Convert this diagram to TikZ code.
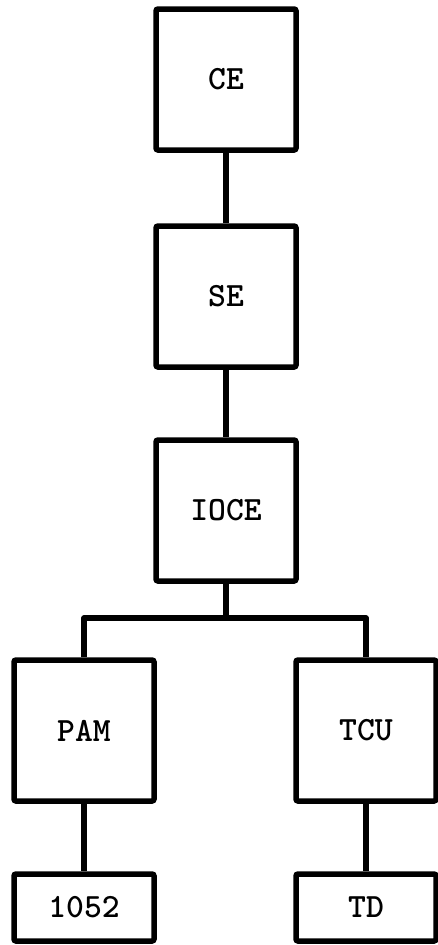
\documentclass[tikz,border=0pt]{standalone}
\usepackage{fontspec}
\tikzset{
  unit/.style={draw, line width=5.5pt, rounded corners=2pt, inner sep=0pt,
    minimum width=140pt, minimum height=141pt,
    font=\fontsize{34}{38}\selectfont\ttfamily\bfseries},
  device/.style={unit, minimum height=67pt},
  link/.style={line width=5.5pt, line join=round}
}

\begin{document}
\begin{tikzpicture}[x=1pt, y=-1pt]
  \useasboundingbox (0,0) rectangle (438,945);
  % main chain down the middle
  \node[unit] (ce)   at (226,79.5)  {CE};
  \node[unit] (se)   at (226,296.5) {SE};
  \node[unit] (ioce) at (226,510.5) {IOCE};
  % the two branches
  \node[unit] (pam)  at (84,730.5)  {PAM};
  \node[unit] (tcu)  at (366,730.5) {TCU};
  \node[device] (dev) at (84,907.5)  {1052};
  \node[device] (td)  at (366,907.5) {TD};
  \draw[link] (ce) -- (se);
  \draw[link] (se) -- (ioce);
  \coordinate (fork) at (226,618);
  \draw[link] (ioce) -- (fork);
  \draw[link] (pam) |- (fork) -| (tcu);
  \draw[link] (pam) -- (dev);
  \draw[link] (tcu) -- (td);
\end{tikzpicture}
\end{document}
